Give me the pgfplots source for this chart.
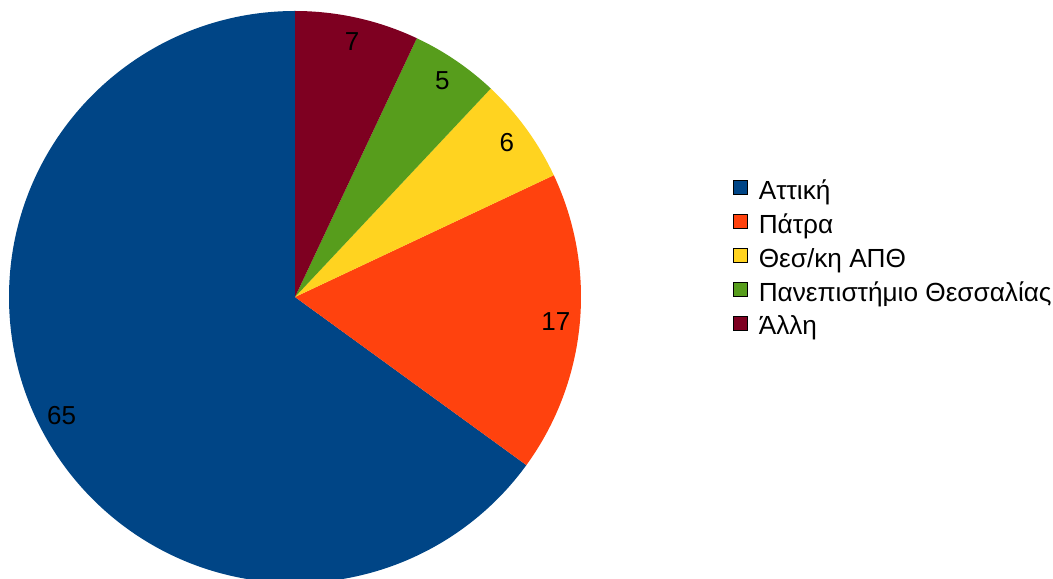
\documentclass[border=0pt]{standalone}
\usepackage{fontspec}
\setmainfont{Liberation Sans}
\usepackage{pgfplots}
\usepackage{pgfplotstable}
\pgfplotsset{compat=1.18}

\definecolor{slice0}{HTML}{004586}
\definecolor{slice1}{HTML}{FF420E}
\definecolor{slice2}{HTML}{FFD320}
\definecolor{slice3}{HTML}{579D1C}
\definecolor{slice4}{HTML}{7E0021}

% shares in percent, counter-clockwise from 12 o'clock
\pgfplotstableread[col sep=comma]{
name,value
Αττική,65
Πάτρα,17
Θεσ/κη ΑΠΘ,6
Πανεπιστήμιο Θεσσαλίας,5
Άλλη,7
}\piedata

\begin{document}
\begin{tikzpicture}
\begin{axis}[
    width=526.5pt, height=289pt, scale only axis,
    xmin=0, xmax=1053, ymin=0, ymax=578,
    hide axis, clip=true,
    legend cell align=left,
    legend image code/.code={\fill[#1] (0pt,-0.25pt) rectangle (7pt,6.75pt);},
    legend style={draw=none, fill=none, inner sep=0pt, outer sep=0pt,
        at={(axis cs:733,398)}, anchor=north west,
        column sep=5.5pt, row sep=4.75pt,
        nodes={inner sep=0pt, text height=8pt, text depth=2.5pt,
               font=\fontsize{13.1}{15}\selectfont}},
]
\path (rel axis cs:0,0) rectangle (rel axis cs:1,1);
\addlegendimage{fill=slice0}\addlegendentry{Αττική}
\addlegendimage{fill=slice1}\addlegendentry{Πάτρα}
\addlegendimage{fill=slice2}\addlegendentry{Θεσ/κη ΑΠΘ}
\addlegendimage{fill=slice3}\addlegendentry{Πανεπιστήμιο Θεσσαλίας}
\addlegendimage{fill=slice4}\addlegendentry{Άλλη}

\def\start{90}
\pgfplotsforeachungrouped \i in {0,...,4}{
  \pgfplotstablegetelem{\i}{value}\of\piedata
  \pgfmathsetmacro\ang{\pgfplotsretval*3.6}
  \pgfmathsetmacro\en{\start+\ang}
  \pgfmathsetmacro\mid{\start+\ang/2}
  \edef\temp{%
    \noexpand\fill[slice\i] (axis cs:295,281) -- ++(\start:143pt)
      arc[start angle=\start, end angle=\en, radius=143pt] -- cycle;
    \noexpand\path (axis cs:295,281) ++(\mid:131pt)
      node[font=\noexpand\fontsize{13}{15}\noexpand\selectfont] {\pgfplotsretval};%
  }
  \temp
  \global\let\start\en
}
\end{axis}
\end{tikzpicture}
\end{document}
